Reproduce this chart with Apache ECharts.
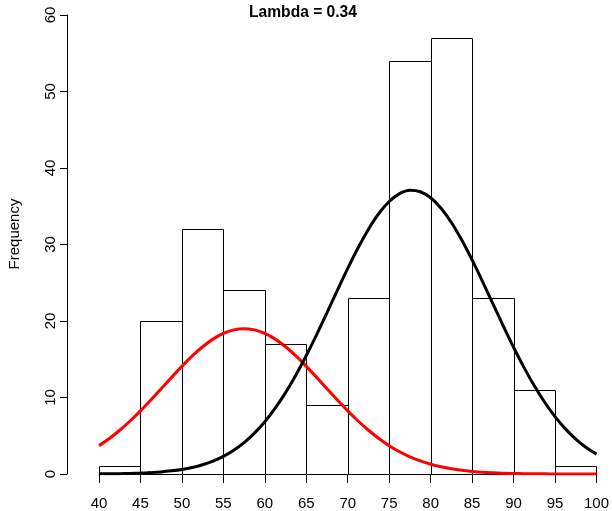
<!DOCTYPE html>
<html>
<head>
<meta charset="utf-8">
<script src="https://cdn.jsdelivr.net/npm/echarts@6/dist/echarts.min.js"></script>
<style>html,body{margin:0;padding:0;background:#fff}#c{width:612px;height:511px}</style>
</head>
<body>
<div id="c"></div>
<script>
// Histogram bins (left edges, width 5) and counts
const binStarts = [40, 45, 50, 55, 60, 65, 70, 75, 80, 85, 90, 95];
const binWidth = 5;
const counts = [1, 20, 32, 24, 17, 9, 23, 54, 57, 23, 11, 1];
// Curve sample x positions
const curveX = [40, 41.25, 42.5, 43.75, 45, 46.25, 47.5, 48.75, 50, 51.25, 52.5, 53.75, 55, 56.25, 57.5, 58.75,
  60, 61.25, 62.5, 63.75, 65, 66.25, 67.5, 68.75, 70, 71.25, 72.5, 73.75, 75, 76.25, 77.5, 78.75,
  80, 81.25, 82.5, 83.75, 85, 86.25, 87.5, 88.75, 90, 91.25, 92.5, 93.75, 95, 96.25, 97.5, 98.75, 100];
// Red curve values
const redY = [3.70, 4.64, 5.72, 6.93, 8.25, 9.67, 11.14, 12.63, 14.07, 15.43, 16.63, 17.63, 18.38, 18.84, 19.0, 18.84,
  18.38, 17.63, 16.63, 15.43, 14.07, 12.63, 11.14, 9.67, 8.25, 6.93, 5.72, 4.64, 3.70, 2.91, 2.25, 1.71,
  1.27, 0.94, 0.68, 0.48, 0.34, 0.23, 0.16, 0.10, 0.07, 0.04, 0.03, 0.02, 0.01, 0.006, 0.004, 0.002, 0.001];
// Black curve values
const blackY = [0.018, 0.029, 0.047, 0.075, 0.117, 0.18, 0.27, 0.41, 0.59, 0.85, 1.21, 1.68, 2.30, 3.10, 4.10, 5.34,
  6.83, 8.60, 10.64, 12.95, 15.49, 18.23, 21.10, 24.01, 26.87, 29.57, 32.0, 34.05, 35.62, 36.65, 37.09, 36.90,
  36.11, 34.74, 32.87, 30.58, 27.98, 25.17, 22.27, 19.37, 16.57, 13.94, 11.53, 9.38, 7.50, 5.90, 4.57, 3.47, 2.60];
const xTicks = [40, 45, 50, 55, 60, 65, 70, 75, 80, 85, 90, 95, 100];
const yTicks = [0, 10, 20, 30, 40, 50, 60];

const histData = binStarts.map((s, i) => [s, s + binWidth, counts[i]]);
const redData = curveX.map((x, i) => [x, redY[i]]);
const blackData = curveX.map((x, i) => [x, blackY[i]]);

const font = 'Liberation Sans, Arial, Helvetica, sans-serif';
const chart = echarts.init(document.getElementById('c'), null, {renderer: 'canvas'});
chart.setOption({
  animation: false,
  backgroundColor: '#fff',
  title: {
    text: 'Lambda = 0.34',
    left: 298, top: 0, textAlign: 'center',
    textStyle: {fontFamily: font, fontSize: 15.6, fontWeight: 'bold', color: '#000'}
  },
  graphic: [{
    type: 'text', x: 15, y: 234, rotation: Math.PI / 2,
    style: {text: 'Frequency', fill: '#000', font: '15px ' + font, align: 'center', verticalAlign: 'middle'}
  }],
  grid: {left: 99, right: 15, top: 15, bottom: 36},
  xAxis: {
    type: 'value', min: xTicks[0], max: xTicks[xTicks.length - 1], interval: 5,
    splitLine: {show: false},
    axisLine: {show: true, onZero: false, lineStyle: {color: '#000', width: 1}},
    axisTick: {show: true, length: 9, lineStyle: {color: '#000', width: 1}},
    axisLabel: {color: '#000', fontFamily: font, fontSize: 15, margin: 22,
      formatter: v => xTicks.includes(v) ? String(v) : ''}
  },
  yAxis: {
    type: 'value', min: yTicks[0], max: yTicks[yTicks.length - 1], interval: 10,
    offset: 32,
    splitLine: {show: false},
    axisLine: {show: true, lineStyle: {color: '#000', width: 1}},
    axisTick: {show: true, length: 7, lineStyle: {color: '#000', width: 1}},
    axisLabel: {color: '#000', fontFamily: font, fontSize: 15, rotate: 90, margin: 9,
      formatter: v => yTicks.includes(v) ? String(v) : ''}
  },
  series: [
    {
      type: 'custom',
      data: histData,
      encode: {x: [0, 1], y: 2},
      z: 1,
      renderItem: function (params, api) {
        const p0 = api.coord([api.value(0), api.value(2)]);
        const p1 = api.coord([api.value(1), 0]);
        return {
          type: 'rect',
          shape: {x: Math.round(p0[0]) + 0.5, y: Math.round(p0[1]) + 0.5,
                  width: Math.round(p1[0]) - Math.round(p0[0]),
                  height: Math.round(p1[1]) - Math.round(p0[1])},
          style: {fill: 'rgba(0,0,0,0)', stroke: '#000', lineWidth: 1}
        };
      }
    },
    {
      type: 'line', data: redData, smooth: 0.3, showSymbol: false, z: 3,
      lineStyle: {color: '#ff0000', width: 3}
    },
    {
      type: 'line', data: blackData, smooth: 0.3, showSymbol: false, z: 3,
      lineStyle: {color: '#000000', width: 3}
    }
  ]
});
</script>
</body>
</html>
